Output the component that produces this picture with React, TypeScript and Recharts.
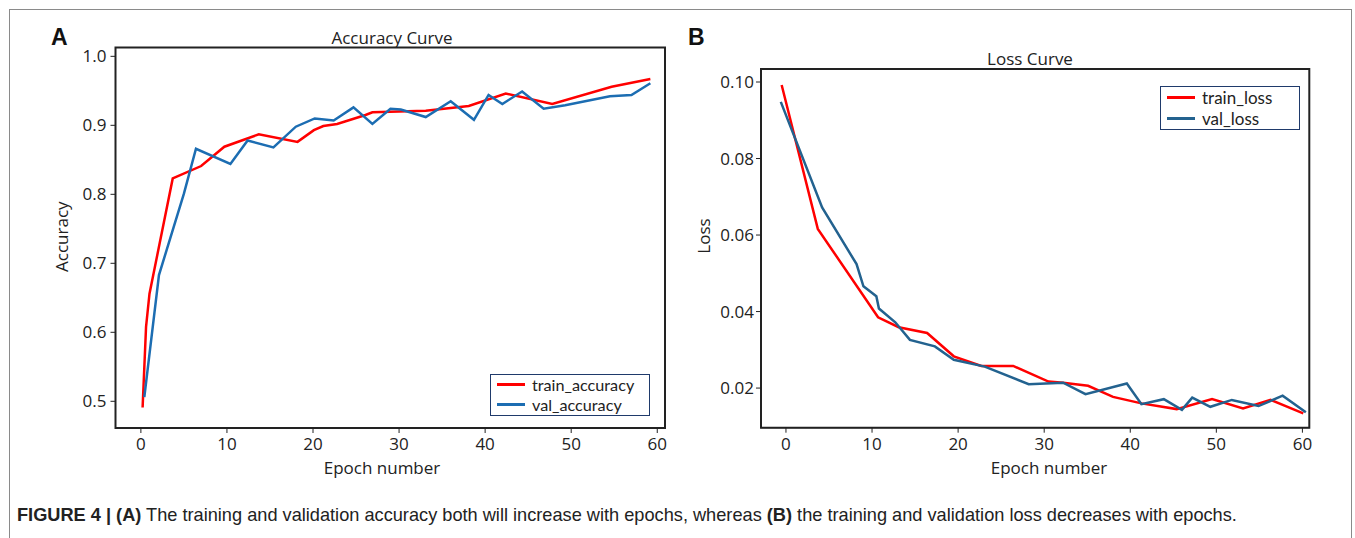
import React from "react";
import { Legend, Line, LineChart, ReferenceArea, XAxis, YAxis } from "recharts";

// accuracy panel (A) – vertices
const accTrainEpoch = [0.2, 0.6, 1.0, 3.7, 7.0, 9.7, 13.7, 18.2, 20.1, 21.2, 22.8, 26.1, 26.9, 33.1, 38.1, 42.4, 47.8, 54.7, 59.2];
const accTrainValue = [0.491, 0.608, 0.656, 0.823, 0.841, 0.869, 0.887, 0.876, 0.893, 0.899, 0.902, 0.915, 0.919, 0.921, 0.928, 0.946, 0.931, 0.956, 0.967];
const accValEpoch = [0.4, 2.1, 5.0, 6.4, 10.4, 12.4, 15.4, 18.0, 20.2, 22.4, 24.7, 26.9, 29.0, 30.2, 33.1, 36.0, 38.7, 40.4, 42.0, 44.3, 46.8, 49.3, 54.5, 57.0, 59.2];
const accValValue = [0.506, 0.683, 0.801, 0.866, 0.844, 0.878, 0.868, 0.898, 0.91, 0.907, 0.926, 0.902, 0.924, 0.923, 0.912, 0.935, 0.908, 0.944, 0.931, 0.949, 0.924, 0.929, 0.942, 0.944, 0.961];

// loss panel (B)
const lossTrainEpoch = [-0.5, 3.7, 10.7, 13.1, 16.4, 19.5, 22.7, 26.4, 30.5, 32.2, 35.1, 38.0, 41.3, 45.4, 49.5, 53.1, 56.3, 60.1];
const lossTrainValue = [0.0992, 0.0616, 0.0385, 0.0359, 0.0344, 0.0283, 0.0258, 0.0258, 0.0217, 0.0214, 0.0206, 0.0177, 0.016, 0.0145, 0.0171, 0.0147, 0.0169, 0.0134];
const lossValEpoch = [-0.6, 4.2, 8.2, 9.0, 10.5, 10.8, 12.7, 14.4, 17.3, 19.5, 23.1, 28.2, 32.2, 34.8, 39.6, 41.3, 43.9, 46.0, 47.2, 49.3, 51.8, 54.9, 57.7, 60.4];
const lossValValue = [0.0948, 0.0672, 0.0524, 0.0466, 0.044, 0.0408, 0.0372, 0.0326, 0.0309, 0.0274, 0.0256, 0.021, 0.0214, 0.0184, 0.0212, 0.0158, 0.0171, 0.0143, 0.0175, 0.0151, 0.0169, 0.0153, 0.018, 0.0137];

const epochTicks = [0, 10, 20, 30, 40, 50, 60];
const accTicks = [0.5, 0.6, 0.7, 0.8, 0.9, 1.0];
const lossTicks = [0.02, 0.04, 0.06, 0.08, 0.1];

const FONT = "'Open Sans', 'DejaVu Sans', sans-serif";
const INK = "#222";

const toRows = (xs: number[], ys: number[], key: string) =>
  xs.map((x, i) => ({ epoch: x, [key]: ys[i] }));

const accTrain = toRows(accTrainEpoch, accTrainValue, "train_accuracy");
const accVal = toRows(accValEpoch, accValValue, "val_accuracy");
const lossTrain = toRows(lossTrainEpoch, lossTrainValue, "train_loss");
const lossVal = toRows(lossValEpoch, lossValValue, "val_loss");

function BoxLegend({ payload, rowH, size }: any) {
  return (
    <div
      style={{
        boxSizing: "border-box",
        width: "100%",
        height: "100%",
        border: "1.5px solid #1f3a6b",
        background: "#fff",
        padding: "0px 6px",
        fontFamily: "Lato, 'Open Sans', sans-serif",
        fontSize: size,
        color: INK,
        lineHeight: `${rowH}px`,
      }}
    >
      {(payload || []).map((p: any) => (
        <div key={p.value} style={{ display: "flex", alignItems: "center", height: rowH }}>
          <span style={{ width: 28, height: 3, background: p.color, marginRight: 7 }} />
          <span>{p.value}</span>
        </div>
      ))}
    </div>
  );
}

const tickStyle = { fontSize: 17, fill: INK, fontFamily: FONT };

function AccuracyChart() {
  const xd: [number, number] = [-2.95, 60.9];
  const yd: [number, number] = [0.4613, 1.0128];
  return (
    <LineChart width={680} height={490} margin={{ top: 47.5, right: 15, left: 0, bottom: 0 }}>
      <XAxis type="number" dataKey="epoch" domain={xd} ticks={epochTicks} allowDataOverflow
        height={62} tickSize={5} tickMargin={5} stroke={INK} tick={tickStyle} />
      <YAxis type="number" domain={yd} ticks={accTicks} allowDataOverflow width={115.5}
        tickSize={5} tickMargin={4} stroke={INK} tick={tickStyle} tickFormatter={(v: number) => v.toFixed(1)} />
      <ReferenceArea x1={xd[0]} x2={xd[1]} y1={yd[0]} y2={yd[1]} fill="none" stroke={INK} strokeWidth={2} />
      <Line data={accTrain} dataKey="train_accuracy" type="linear" stroke="#ff0000" strokeWidth={2.5}
        dot={false} isAnimationActive={false} />
      <Line data={accVal} dataKey="val_accuracy" type="linear" stroke="#1c6db2" strokeWidth={2.5}
        dot={false} isAnimationActive={false} />
      <Legend layout="vertical" align="center" verticalAlign="middle"
        wrapperStyle={{ left: 490, top: 374, width: 160, height: 42 }}
        content={(props: any) => <BoxLegend {...props} rowH={19.8} size={16.2} />} />
    </LineChart>
  );
}

function LossChart() {
  const xd: [number, number] = [-2.9, 60.8];
  const yd: [number, number] = [0.00964, 0.1034];
  return (
    <LineChart width={680} height={490} margin={{ top: 69, right: 50.7, left: 0, bottom: 0 }}>
      <XAxis type="number" dataKey="epoch" domain={xd} ticks={epochTicks} allowDataOverflow
        height={62.3} tickSize={5} tickMargin={5} stroke={INK} tick={tickStyle} />
      <YAxis type="number" domain={yd} ticks={lossTicks} allowDataOverflow width={81}
        tickSize={5} tickMargin={2} stroke={INK} tick={tickStyle} tickFormatter={(v: number) => v.toFixed(2)} />
      <ReferenceArea x1={xd[0]} x2={xd[1]} y1={yd[0]} y2={yd[1]} fill="none" stroke={INK} strokeWidth={2} />
      <Line data={lossTrain} dataKey="train_loss" type="linear" stroke="#ff0000" strokeWidth={2.5}
        dot={false} isAnimationActive={false} />
      <Line data={lossVal} dataKey="val_loss" type="linear" stroke="#23628f" strokeWidth={2.5}
        dot={false} isAnimationActive={false} />
      <Legend layout="vertical" align="center" verticalAlign="middle"
        wrapperStyle={{ left: 480, top: 86, width: 140, height: 44 }}
        content={(props: any) => <BoxLegend {...props} rowH={21} size={17} />} />
    </LineChart>
  );
}

export default function App() {
  return (
    <div style={{ position: "absolute", left: 0, top: 0, width: 1355, height: 538, overflow: "hidden", background: "#fff" }}>
      <div style={{ position: "absolute", left: 9, top: 9, width: 1341, height: 560, border: "1.5px solid #8a8a8a" }} />
      <div style={{ position: "absolute", left: 0, top: 0 }}>
        <AccuracyChart />
      </div>
      <div style={{ position: "absolute", left: 680, top: 0 }}>
        <LossChart />
      </div>
      <svg width={1355} height={538} style={{ position: "absolute", left: 0, top: 0, pointerEvents: "none" }}>
        <g fontFamily="'Liberation Sans', Arial, sans-serif" fontWeight="bold" fontSize={23} fill="#111">
          <text x={51} y={45}>A</text>
          <text x={688} y={45}>B</text>
        </g>
        <g fontFamily={FONT} fontSize={17} fill={INK} textAnchor="middle" dominantBaseline="central">
          <text x={392} y={37}>Accuracy Curve</text>
          <text x={1030} y={58}>Loss Curve</text>
          <text x={382} y={467}>Epoch number</text>
          <text x={1049} y={467}>Epoch number</text>
          <text transform="translate(61.5,236.7) rotate(-90)">Accuracy</text>
          <text transform="translate(703,236) rotate(-90)">Loss</text>
        </g>
      </svg>
      <div style={{ position: "absolute", left: 17, top: 505, fontFamily: "'Liberation Sans', Arial, sans-serif", fontSize: 18.2, color: "#222", whiteSpace: "nowrap" }}>
        <b>FIGURE 4 | (A)</b> The training and validation accuracy both will increase with epochs, whereas <b>(B)</b> the training and validation loss decreases with epochs.
      </div>
    </div>
  );
}
